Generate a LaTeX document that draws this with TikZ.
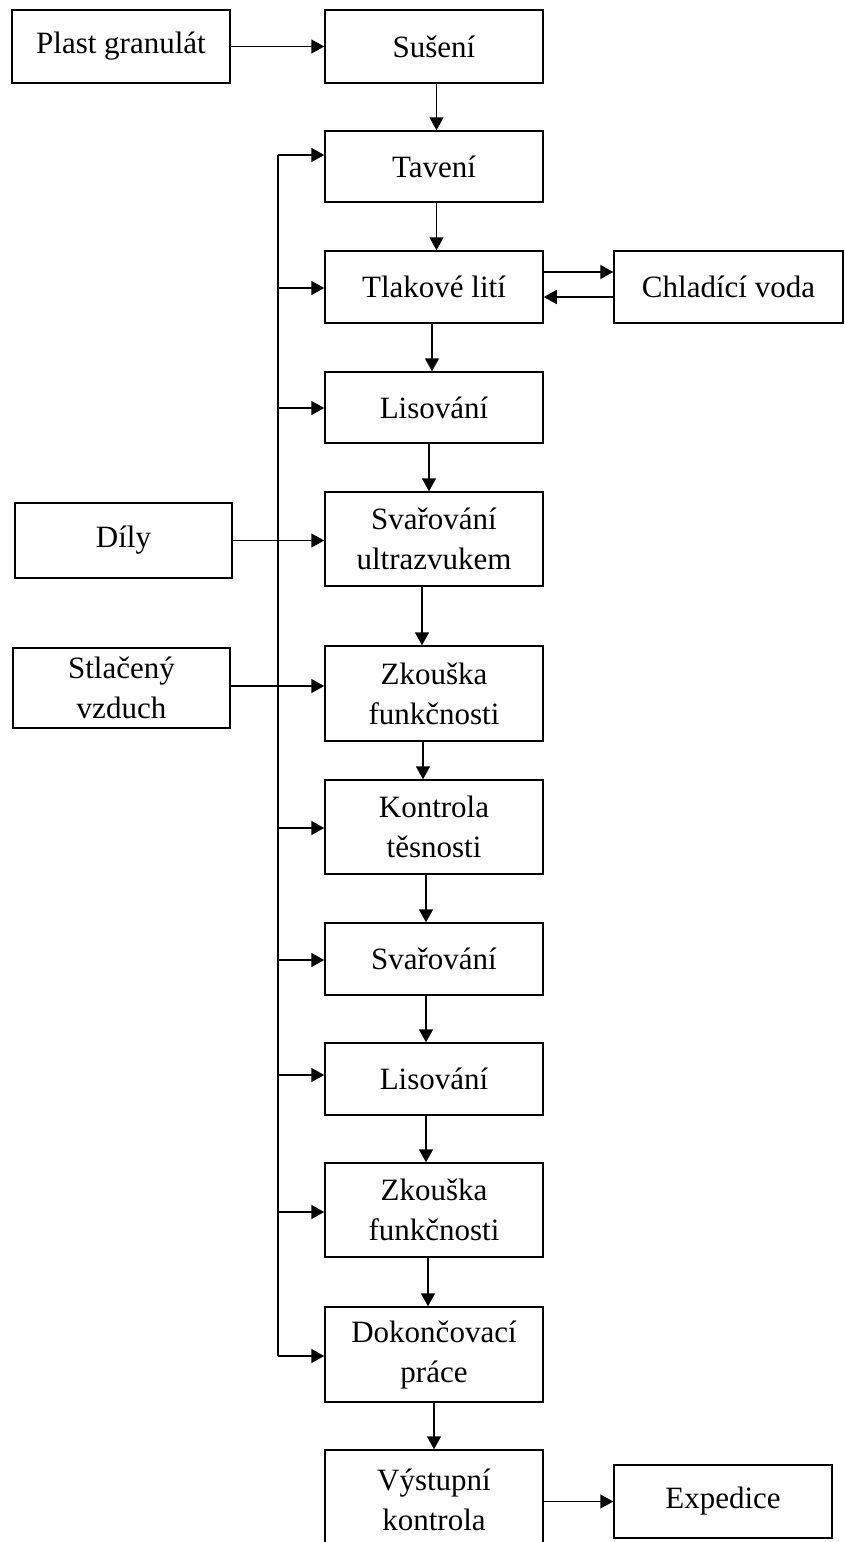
\documentclass[tikz,border=0pt]{standalone}
\usepackage{fontspec}
\setmainfont{Liberation Serif}
\usetikzlibrary{arrows.meta}
\begin{document}
\begin{tikzpicture}[x=1pt,y=-1pt,
  box/.style={draw,line width=1.5pt,rectangle,align=center,inner sep=0pt,
    font=\fontsize{31}{40}\selectfont},
  mainbox/.style={box,minimum width=218pt},
  arr/.style={line width=1.5pt,-{Triangle[length=13pt,width=14pt]}},
  link/.style={line width=1.5pt}]
\clip (0,0) rectangle (845,1542);
\fill[white] (0,0) rectangle (845,1542);
% main process column
\node[mainbox,minimum height=73pt] (sus) at (434,46.5) {Sušení};
\node[mainbox,minimum height=71pt] (tav) at (434,166.5) {Tavení};
\node[mainbox,minimum height=72pt] (tlak) at (434,287) {Tlakové lití};
\node[mainbox,minimum height=71pt] (lis1) at (434,407.5) {Lisování};
\node[mainbox,minimum height=94pt] (svu) at (434,539) {Svařování\\ultrazvukem};
\node[mainbox,minimum height=95pt] (zk1) at (434,693.5) {Zkouška\\funkčnosti};
\node[mainbox,minimum height=94pt] (kon) at (434,827) {Kontrola\\těsnosti};
\node[mainbox,minimum height=72pt] (sva) at (434,959) {Svařování};
\node[mainbox,minimum height=72pt] (lis2) at (434,1079) {Lisování};
\node[mainbox,minimum height=94pt] (zk2) at (434,1210) {Zkouška\\funkčnosti};
\node[mainbox,minimum height=95pt] (dok) at (434,1354.5) {Dokončovací\\práce};
\node[mainbox,minimum height=100pt] (vys) at (434,1500) {Výstupní\\kontrola};
% inputs and outputs
\node[box,minimum width=218pt,minimum height=73pt] (pg) at (121,46.5) {Plast granulát};
\node[box,minimum width=217pt,minimum height=75pt] (dily) at (123.5,540.5) {Díly};
\node[box,minimum width=217pt,minimum height=80pt] (stl) at (121.5,688) {Stlačený\\vzduch};
\node[box,minimum width=229pt,minimum height=72pt] (chl) at (728.5,287) {Chladící voda};
\node[box,minimum width=218pt,minimum height=73pt] (exp) at (723,1501.5) {Expedice};
% flow down the column
\draw[arr] ([xshift=2.5pt]sus.south) -- ([xshift=2.5pt]tav.north);
\draw[arr] ([xshift=2.5pt]tav.south) -- ([xshift=2.5pt]tlak.north);
\draw[arr] ([xshift=-2pt]tlak.south) -- ([xshift=-2pt]lis1.north);
\draw[arr] ([xshift=-5pt]lis1.south) -- ([xshift=-5pt]svu.north);
\draw[arr] ([xshift=-12pt]svu.south) -- ([xshift=-12pt]zk1.north);
\draw[arr] ([xshift=-11pt]zk1.south) -- ([xshift=-11pt]kon.north);
\draw[arr] ([xshift=-8pt]kon.south) -- ([xshift=-8pt]sva.north);
\draw[arr] ([xshift=-8pt]sva.south) -- ([xshift=-8pt]lis2.north);
\draw[arr] ([xshift=-8pt]lis2.south) -- ([xshift=-8pt]zk2.north);
\draw[arr] ([xshift=-6pt]zk2.south) -- ([xshift=-6pt]dok.north);
\draw[arr] (dok.south) -- (vys.north);
% side flows
\draw[arr] (pg.east) -- (sus.west);
\draw[arr] ([yshift=15pt]tlak.east) -- ([yshift=15pt]tlak.east -| chl.west);
\draw[arr] ([yshift=-10pt]chl.west) -- ([yshift=-10pt]chl.west -| tlak.east);
\draw[arr] (vys.east |- exp.west) -- (exp.west);
\draw[arr] (dily.east) -- (dily.east -| svu.west);
\draw[arr] ([yshift=2pt]stl.east) -- ([yshift=2pt]stl.east -| zk1.west);
% supply bus
\coordinate (btop) at (278,155);
\coordinate (bbot) at (278,1356);
\draw[link] (btop) -- (bbot);
\draw[arr] (btop) -- (btop -| tav.west);
\foreach \yy/\nn in {288/tlak,408/lis1,828/kon,960/sva,1075/lis2,1212/zk2}
  \draw[arr] (278,\yy) coordinate (c\nn) -- (c\nn -| \nn.west);
\draw[arr] (bbot) -- (bbot -| dok.west);
\end{tikzpicture}
\end{document}
